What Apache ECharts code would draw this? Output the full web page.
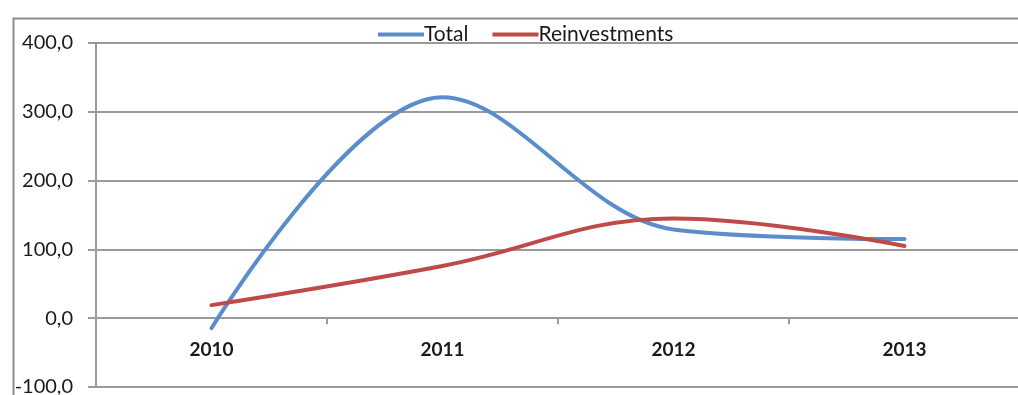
<!DOCTYPE html>
<html>
<head>
<meta charset="utf-8">
<script src="https://cdn.jsdelivr.net/npm/echarts@6/dist/echarts.min.js"></script>
<style>
  html, body { margin: 0; padding: 0; background: #fff; }
  #chart { width: 1018px; height: 395px; }
</style>
</head>
<body>
<div id="chart"></div>
<script>
// Years on the category axis
const years = ['2010', '2011', '2012', '2013'];
// Series values
const totalValues = [-14.5, 321, 129, 115];
const reinvestValues = [19, 76, 145, 105];
// Value axis range
const yMin = -100;
const yMax = 400;
const yStep = 100;

const FONT = 'Lato, "Open Sans", "Liberation Sans", sans-serif';
const GRID_COLOR = '#9a9a9a';

const chart = echarts.init(document.getElementById('chart'));
chart.setOption({
  animation: false,
  backgroundColor: '#ffffff',
  graphic: [{
    type: 'rect',
    left: 11, top: 16,
    shape: { width: 1200, height: 600 },
    style: { fill: 'none', stroke: '#8c8c8c', lineWidth: 2 },
    z: -1
  }],
  legend: {
    top: 19,
    left: 373,
    itemWidth: 46,
    itemHeight: 4,
    itemGap: 24,
    icon: 'rect',
    textStyle: { fontFamily: FONT, fontSize: 21, color: '#1a1a1a', padding: [0, 0, 0, -5] },
    data: ['Total', 'Reinvestments']
  },
  grid: { left: 96, right: -2, top: 43, bottom: 8, containLabel: false, outerBoundsMode: 'none' },
  xAxis: {
    type: 'category',
    data: years,
    boundaryGap: true,
    axisLine: { onZero: true, lineStyle: { color: GRID_COLOR, width: 2 } },
    axisTick: { show: true, length: 6, inside: false, lineStyle: { color: GRID_COLOR, width: 2 } },
    // labels sit just under the zero line
    axisLabel: { margin: -47, fontFamily: FONT, fontSize: 19, fontWeight: 'bold', color: '#1a1a1a' },
    splitLine: { show: false }
  },
  yAxis: {
    type: 'value',
    min: yMin, max: yMax, interval: yStep,
    axisLine: { show: true, lineStyle: { color: GRID_COLOR, width: 2 } },
    axisTick: { show: true, length: 8, lineStyle: { color: GRID_COLOR, width: 2 } },
    axisLabel: {
      margin: 23, fontFamily: FONT, fontSize: 20, color: '#1a1a1a',
      formatter: v => v.toFixed(1).replace('.', ',')
    },
    splitLine: { show: true, lineStyle: { color: GRID_COLOR, width: 2 } }
  },
  series: [
    {
      name: 'Total',
      type: 'line',
      data: totalValues,
      smooth: 0.35,
      showSymbol: false,
      symbol: 'none',
      itemStyle: { color: '#5b8ccc' },
      lineStyle: { color: '#5b8ccc', width: 4, cap: 'round' },
      z: 3
    },
    {
      name: 'Reinvestments',
      type: 'line',
      data: reinvestValues,
      smooth: 0.4,
      showSymbol: false,
      symbol: 'none',
      itemStyle: { color: '#be4b48' },
      lineStyle: { color: '#be4b48', width: 4, cap: 'round' },
      z: 4
    }
  ]
});
</script>
</body>
</html>
